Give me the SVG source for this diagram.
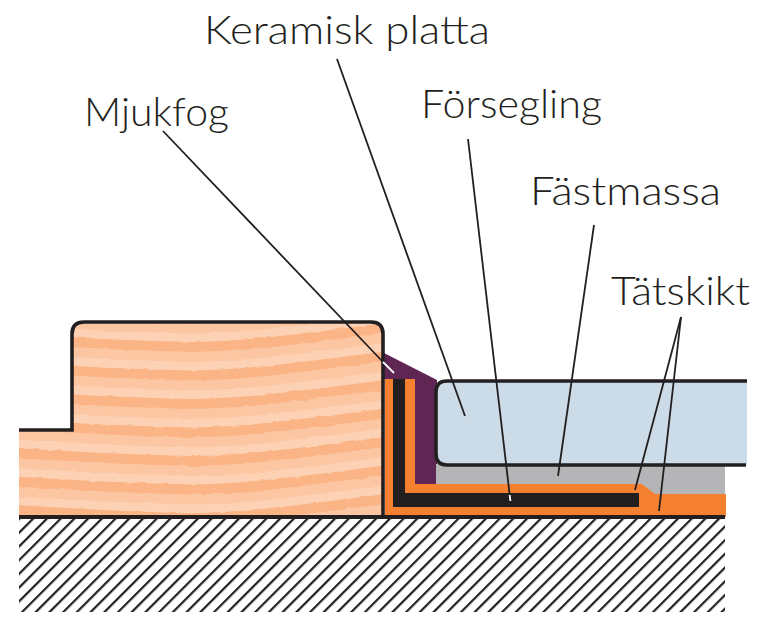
<svg xmlns="http://www.w3.org/2000/svg" xmlns:xlink="http://www.w3.org/1999/xlink" width="771" height="621" viewBox="0 0 771 621">
<style>
.lbl{font-family:"Lato","Liberation Sans",sans-serif;font-size:39px;font-weight:300;fill:#231f20}
.lead{fill:none;stroke:#231f20;stroke-width:1.8}
.edge{fill:none;stroke:#231f20;stroke-width:3.6}
</style>
<defs>
<pattern id="hatch" width="9.7" height="9.7" patternUnits="userSpaceOnUse" patternTransform="rotate(45 19 517)">
<rect width="9.7" height="9.7" fill="#fff"/>
<rect x="0" y="0" width="2.2" height="9.7" fill="#231f20"/>
</pattern>
<clipPath id="woodClip"><path d="M19 430H72V334Q72 322 84 322H371Q383 322 383 334V516H19Z"/></clipPath>
<filter id="rough" x="0" y="0" width="100%" height="100%" filterUnits="objectBoundingBox">
<feTurbulence type="fractalNoise" baseFrequency="0.09 0.2" numOctaves="2" seed="4"/>
<feDisplacementMap in="SourceGraphic" scale="3" xChannelSelector="R" yChannelSelector="G"/>
</filter>
<g id="grain">
<path d="M0 -9C60 -5 120 -1 190 0C240 0 300 -8 400 -21" fill="none" stroke="#fcc6a2" stroke-width="10" transform="translate(0 10)"/>
<path d="M0 -9C60 -5 120 -1 190 0C240 0 300 -8 400 -21" fill="none" stroke="#fbb485" stroke-width="10"/>
</g>
</defs>
<g id="ground">
<rect x="19" y="517" width="706" height="95" fill="url(#hatch)"/>
</g>
<g id="wood">
<g clip-path="url(#woodClip)">
<rect x="19" y="315" width="366" height="205" fill="#fdd2b4"/>
<g filter="url(#rough)">
<use xlink:href="#grain" href="#grain" y="290"/>
<use xlink:href="#grain" href="#grain" y="318.5"/>
<use xlink:href="#grain" href="#grain" y="347"/>
<use xlink:href="#grain" href="#grain" y="375.5"/>
<use xlink:href="#grain" href="#grain" y="404"/>
<use xlink:href="#grain" href="#grain" y="432.5"/>
<use xlink:href="#grain" href="#grain" y="461"/>
<use xlink:href="#grain" href="#grain" y="489.5"/>
<use xlink:href="#grain" href="#grain" y="518"/>
</g>
</g>
</g>
<g id="forsegling"><path d="M384 353L437 380V484H415V379H384Z" fill="#5f2654"/></g>
<g id="fastmassa"><rect x="436" y="464" width="289" height="31" fill="#b5b5b8"/></g>
<g id="tatskikt"><path d="M385 379H415V484H642L655 494H726V517H385Z" fill="#f58030"/></g>
<g id="mjukfog-black"><path d="M393 379H405V493H639V507H393Z" fill="#231f20"/></g>
<g id="platta"><path d="M747 381H445Q435 381 435 391V455Q435 465 445 465H747" fill="#cbdce8"/><path class="edge" d="M747 381H447Q436 381 436 392V454Q436 465 447 465H746"/></g>
<g id="outlines">
<path class="edge" d="M19 430H72V334Q72 322 84 322H371Q383 322 383 334V516"/>
<rect x="19" y="515" width="706" height="4" fill="#231f20"/>
</g>
<g id="connectors">
<path class="lead" d="M163 131L383 362"/>
<path d="M383 362L394 373" fill="none" stroke="#fff" stroke-width="1.8"/>
<path class="lead" d="M337 59L465 416"/>
<path class="lead" d="M468 139L509.700 495"/>
<path d="M509.700 495L510.400 501" fill="none" stroke="#fff" stroke-width="1.8"/>
<path class="lead" d="M594 225L558 476"/>
<path class="lead" d="M681 317L635 490"/>
<path class="lead" d="M681 317L659 511"/>
</g>
<g id="labels">
<text class="lbl" x="204" y="44" textLength="286" lengthAdjust="spacingAndGlyphs">Keramisk platta</text>
<text class="lbl" x="84" y="126" textLength="145" lengthAdjust="spacingAndGlyphs">Mjukfog</text>
<text class="lbl" x="421" y="118" textLength="181" lengthAdjust="spacingAndGlyphs">Försegling</text>
<text class="lbl" x="530" y="205" textLength="191" lengthAdjust="spacingAndGlyphs">Fästmassa</text>
<text class="lbl" x="611" y="305" textLength="139" lengthAdjust="spacingAndGlyphs">Tätskikt</text>
</g>
</svg>
